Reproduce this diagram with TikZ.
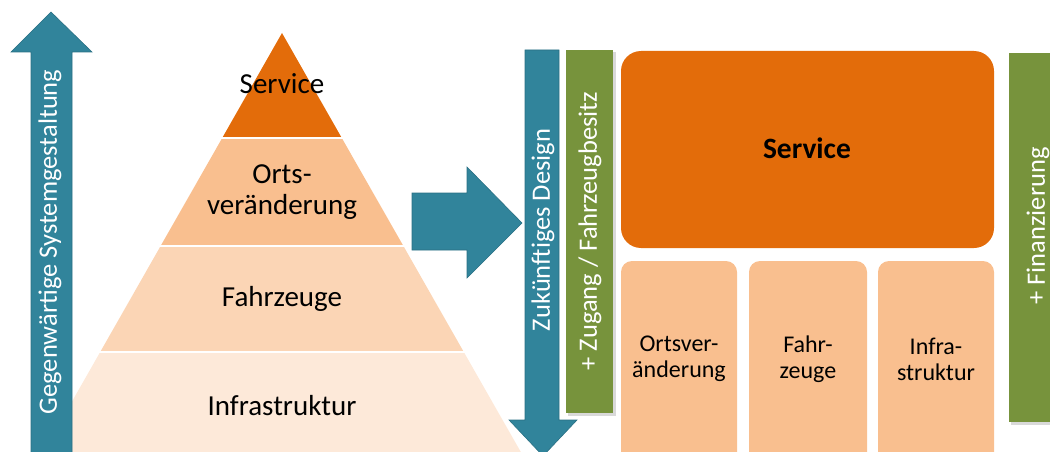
\documentclass[tikz,border=0pt]{standalone}
\usepackage{fontspec}
\setmainfont{Carlito}
\definecolor{dkorange}{HTML}{E36C0A}
\definecolor{midorange}{HTML}{F9BF8F}
\definecolor{ltorange}{HTML}{FBD5B5}
\definecolor{paleorange}{HTML}{FDE9D9}
\definecolor{tealc}{HTML}{31849B}
\definecolor{greenc}{HTML}{77933C}
\begin{document}
\begin{tikzpicture}[x=1pt,y=-1pt,
  arrowshape/.style={fill=tealc, draw=tealc!85!black, line width=0.6pt},
  barshape/.style={fill=greenc},
  shadowshape/.style={fill=black, opacity=0.15},
  pyrtext/.style={font=\fontsize{29}{31}\selectfont, text=black, align=center, inner sep=0pt},
  bartext/.style={font=\fontsize{26.5}{28}\selectfont, text=white, rotate=90, inner sep=0pt},
  boxtext/.style={font=\fontsize{24}{26}\selectfont, text=black, align=center, inner sep=0pt},
  sep/.style={draw=white, line width=1.6pt}
]
\useasboundingbox (0,0) rectangle (1050,452);
\clip (0,0) rectangle (1050,452);

% Pyramid layers
\fill[dkorange] (282,33) -- (222.2,138) -- (341.8,138) -- cycle;
\fill[midorange] (222.2,138) -- (341.8,138) -- (403.4,246) -- (160.6,246) -- cycle;
\fill[ltorange] (160.6,246) -- (403.4,246) -- (463.8,352) -- (100.2,352) -- cycle;
\fill[paleorange] (100.2,352) -- (463.8,352) -- (525.4,460) -- (38.6,460) -- cycle;
\draw[sep] (215,138) -- (349,138);
\draw[sep] (150,246) -- (414,246);
\draw[sep] (90,352) -- (474,352);

\node[pyrtext] (pserv) at (282,84) {Service};
\node[pyrtext] (ports) at (282,192) {Orts-\\veränderung};
\node[pyrtext] (pfahr) at (282,299) {Fahrzeuge};
\node[pyrtext] (pinfra) at (282,406) {Infrastruktur};

% Left up arrow
\path[arrowshape] (31,460) -- (31,52) -- (11,52) -- (51,12) -- (92,52) -- (72,52) -- (72,460) -- cycle;
\node[bartext] (gegen) at (50,242) {Gegenwärtige Systemgestaltung};

% Middle right arrow
\path[arrowshape] (412,193) -- (467,193) -- (467,167) -- (522,223) -- (467,278) -- (467,250) -- (412,250) -- cycle;

% Green bar 1 with shadow
\fill[shadowshape] (568,52) rectangle (616,416);
\path[barshape] (566,50) rectangle (613,413);
\node[bartext] (zugang) at (590,231) {+ Zugang / Fahrzeugbesitz};

% Down arrow
\path[arrowshape] (525,50) -- (559,50) -- (559,420) -- (577,420) -- (543,456) -- (509,420) -- (525,420) -- cycle;
\node[bartext] (zuk) at (543,230) {Zukünftiges Design};

% Service box
\fill[dkorange, rounded corners=20pt] (621,51) rectangle (994,248);
\node[font=\fontsize{29.5}{31}\selectfont\bfseries, inner sep=0pt] (service) at (807,148) {Service};

% Small boxes
\fill[midorange, rounded corners=11pt] (621,261) rectangle (737,480);
\fill[midorange, rounded corners=11pt] (749,261) rectangle (867,480);
\fill[midorange, rounded corners=11pt] (878,261) rectangle (994,480);
\node[boxtext] (b1) at (679,359) {Ortsver-\\änderung};
\node[boxtext] (b2) at (808,359) {Fahr-\\zeuge};
\node[boxtext] (b3) at (936,359) {Infra-\\struktur};

% Green bar 2
\fill[shadowshape] (1011,55) rectangle (1062,425);
\path[barshape] (1009,53) rectangle (1060,422);
\node[bartext] (finanz) at (1038,226) {+ Finanzierung};
\end{tikzpicture}
\end{document}
